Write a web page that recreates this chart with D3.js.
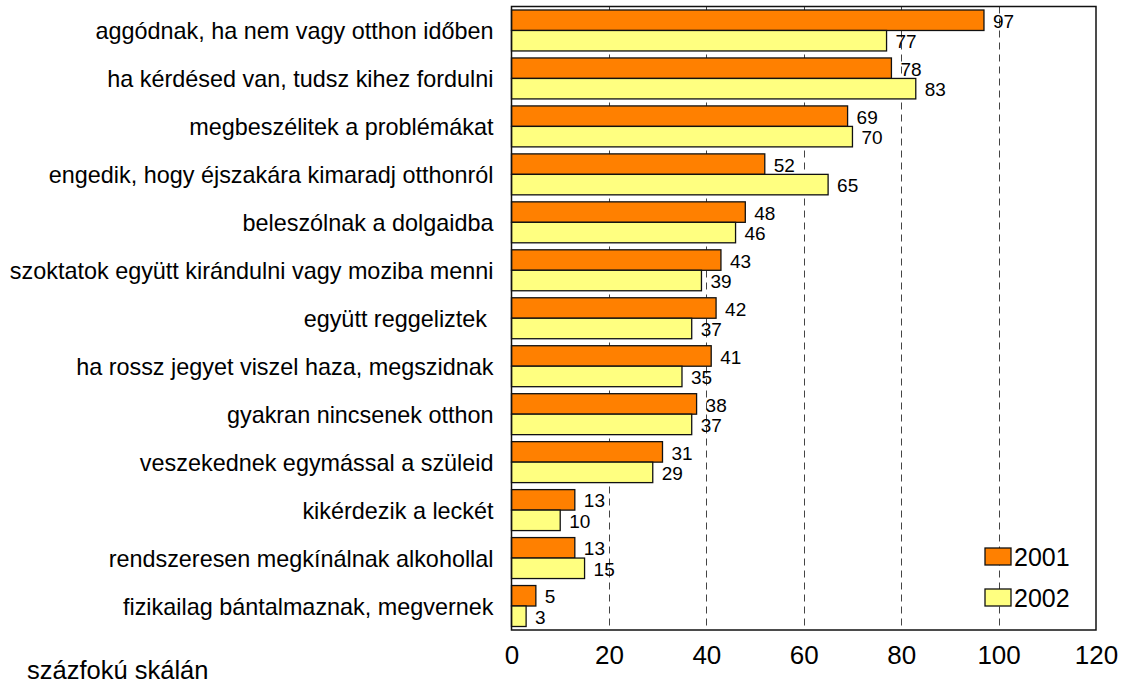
<!DOCTYPE html>
<head>
  <meta charset="utf-8">
  <script src="https://d3js.org/d3.v7.min.js"></script>
  <style>
    body { margin: 0; background: #fff; }
    svg { display: block; font-family: Arial, "Liberation Sans", sans-serif; }
  </style>
</head>
<body>
  <svg width="1127" height="686"></svg>
  <script>
    var categories = [
      'aggódnak, ha nem vagy otthon időben',
      'ha kérdésed van, tudsz kihez fordulni',
      'megbeszélitek a problémákat',
      'engedik, hogy éjszakára kimaradj otthonról',
      'beleszólnak a dolgaidba',
      'szoktatok együtt kirándulni vagy moziba menni',
      'együtt reggeliztek ',
      'ha rossz jegyet viszel haza, megszidnak',
      'gyakran nincsenek otthon',
      'veszekednek egymással a szüleid',
      'kikérdezik a leckét',
      'rendszeresen megkínálnak alkohollal',
      'fizikailag bántalmaznak, megvernek'
    ];
    var values2001 = [97, 78, 69, 52, 48, 43, 42, 41, 38, 31, 13, 13, 5];
    var values2002 = [77, 83, 70, 65, 46, 39, 37, 35, 37, 29, 10, 15, 3];
    var seriesNames = ['2001', '2002'];
    var xTicks = [0, 20, 40, 60, 80, 100, 120];
    var gridTicks = [20, 40, 60, 80, 100];
    var colors = { '2001': '#ff8000', '2002': '#ffff80' };

    var margin = { top: 6.5, left: 511.5, right: 31, bottom: 56 };
    var width = 1127, height = 686;

    var svg = d3.select('svg');

    var x = d3.scaleLinear()
      .domain([0, 120])
      .range([margin.left, width - margin.right]);

    var y = d3.scaleBand()
      .domain(categories)
      .range([margin.top, height - margin.bottom])
      .paddingInner(0.146)
      .paddingOuter(0.073);

    var ySub = d3.scaleBand()
      .domain(seriesNames)
      .range([0, y.bandwidth()]);

    var rows = categories.map(function (c, i) {
      return { cat: c, vals: [
        { key: '2001', v: values2001[i] },
        { key: '2002', v: values2002[i] }
      ] };
    });

    // dashed gridlines behind the bars
    svg.append('g')
      .selectAll('line')
      .data(gridTicks)
      .enter()
      .append('line')
      .attr('x1', function (d) { return Math.round(x(d)) + 0.5; })
      .attr('x2', function (d) { return Math.round(x(d)) + 0.5; })
      .attr('y1', margin.top)
      .attr('y2', height - margin.bottom)
      .attr('stroke', '#444')
      .attr('stroke-dasharray', '7,5');

    var groups = svg.append('g')
      .selectAll('g')
      .data(rows)
      .enter()
      .append('g')
      .attr('transform', function (d) { return 'translate(0,' + y(d.cat) + ')'; });

    groups.selectAll('rect')
      .data(function (d) { return d.vals; })
      .enter()
      .append('rect')
      .attr('x', x(0))
      .attr('y', function (d) { return ySub(d.key); })
      .attr('width', function (d) { return x(d.v) - x(0); })
      .attr('height', ySub.bandwidth())
      .attr('fill', function (d) { return colors[d.key]; })
      .attr('stroke', '#111')
      .attr('stroke-width', 1.3);

    groups.selectAll('text')
      .data(function (d) { return d.vals; })
      .enter()
      .append('text')
      .attr('x', function (d) { return x(d.v) + 9; })
      .attr('y', function (d) { return ySub(d.key) + ySub.bandwidth() / 2 + 1; })
      .attr('dy', '0.35em')
      .attr('font-size', 19)
      .attr('fill', '#000')
      .text(function (d) { return d.v; });

    // frame
    svg.append('rect')
      .attr('x', x(0))
      .attr('y', margin.top)
      .attr('width', x(120) - x(0))
      .attr('height', height - margin.bottom - margin.top)
      .attr('fill', 'none')
      .attr('stroke', '#111')
      .attr('stroke-width', 1.5);

    // category axis
    var yAxis = d3.axisLeft(y).tickSize(0).tickPadding(18);
    var gy = svg.append('g')
      .attr('transform', 'translate(' + x(0) + ',0)')
      .call(yAxis);
    gy.select('.domain').remove();
    gy.selectAll('text')
      .attr('font-size', 23.4)
      .attr('font-family', 'Arial, "Liberation Sans", sans-serif')
      .attr('fill', '#000')
      .attr('dy', '0.38em')
      .style('white-space', 'pre');

    // value axis
    var xAxis = d3.axisBottom(x).tickValues(xTicks).tickSize(0).tickPadding(16);
    var gx = svg.append('g')
      .attr('transform', 'translate(0,' + (height - margin.bottom) + ')')
      .call(xAxis);
    gx.select('.domain').remove();
    gx.selectAll('text')
      .attr('font-size', 26)
      .attr('font-family', 'Arial, "Liberation Sans", sans-serif')
      .attr('fill', '#000');

    // legend
    var legend = svg.append('g')
      .selectAll('g')
      .data(seriesNames)
      .enter()
      .append('g')
      .attr('transform', function (d, i) { return 'translate(985,' + (548 + i * 41) + ')'; });
    legend.append('rect')
      .attr('width', 26)
      .attr('height', 17)
      .attr('fill', function (d) { return colors[d]; })
      .attr('stroke', '#111')
      .attr('stroke-width', 1.3);
    legend.append('text')
      .attr('x', 29)
      .attr('y', 17.5)
      .attr('font-size', 25)
      .text(function (d) { return d; });

    svg.append('text')
      .attr('x', 27)
      .attr('y', 679)
      .attr('font-size', 25.5)
      .text('százfokú skálán');
  </script>
</body>
